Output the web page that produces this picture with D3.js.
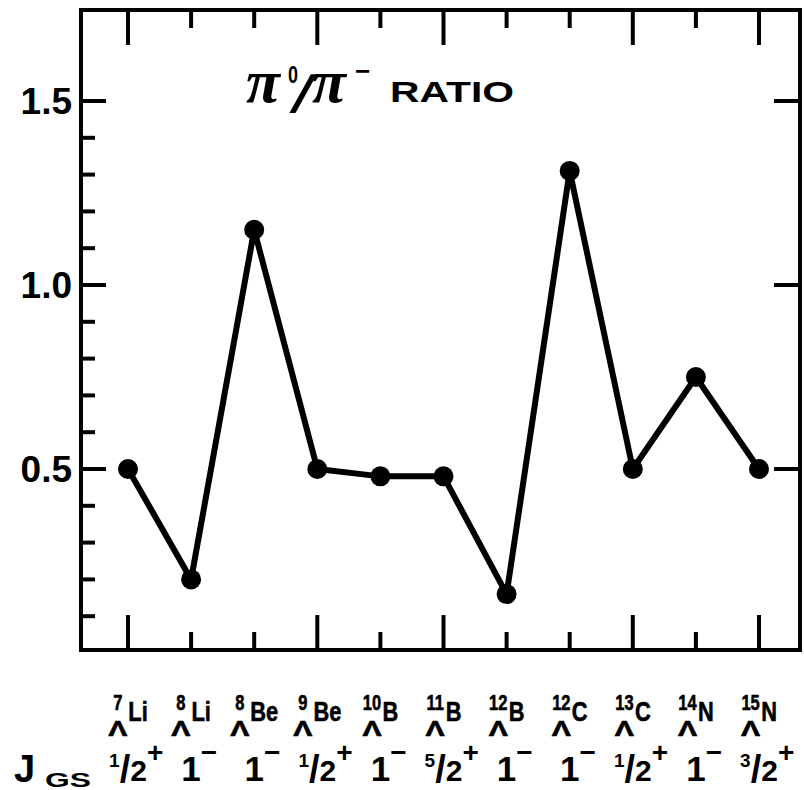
<!DOCTYPE html>
<html>
<head>
<meta charset="utf-8">
<script src="https://cdn.jsdelivr.net/npm/d3@7"></script>
<style>
  body { margin: 0; background: #fff; }
  .nuc { font-family: "Liberation Sans", Arial, sans-serif; font-weight: bold; stroke: #000; stroke-width: 0.6px; }
  .num { font-family: "Liberation Sans", Arial, sans-serif; font-weight: bold; }
  .pi { font-family: "Liberation Serif", "DejaVu Serif", serif; font-style: italic; font-weight: bold; }
</style>
</head>
<body>
<svg class="chart"></svg>
<script>
// hypernuclei along the x axis
var massNumbers = [7, 8, 8, 9, 10, 11, 12, 12, 13, 14, 15];
var elements = ["Li", "Li", "Be", "Be", "B", "B", "B", "C", "C", "N", "N"];
// ground state spin / parity
var spins = ["1/2", "1", "1", "1/2", "1", "5/2", "1", "1", "1/2", "1", "3/2"];
var parities = ["+", "−", "−", "+", "−", "+", "−", "−", "+", "−", "+"];
// pi0 / pi- ratio
var ratios = [0.50, 0.20, 1.15, 0.50, 0.48, 0.48, 0.16, 1.31, 0.50, 0.75, 0.50];

var yMajorTicks = [0.5, 1.0, 1.5];
var yTickLabels = ["0.5", "1.0", "1.5"];
var yMinorTicks = [0.1, 0.2, 0.3, 0.4, 0.6, 0.7, 0.8, 0.9, 1.1, 1.2, 1.3, 1.4];

var width = 804, height = 790;
var box = {left: 81, right: 800, top: 10, bottom: 650};

var ids = massNumbers.map(function(m, i) { return m + elements[i]; });

var svg = d3.select(".chart")
    .attr("width", width)
    .attr("height", height);

svg.append("rect").attr("width", width).attr("height", height).attr("fill", "#fff");

var x = d3.scalePoint().domain(ids).range([128, 759]);
var y = d3.scaleLinear().domain([0, 1.75]).range([653, 9]);

// frame
svg.append("rect")
    .attr("x", box.left).attr("y", box.top)
    .attr("width", box.right - box.left).attr("height", box.bottom - box.top)
    .attr("fill", "none").attr("stroke", "#000").attr("stroke-width", 4);

// left axis ticks
var ticks = svg.append("g").attr("stroke", "#000").attr("stroke-width", 4);
ticks.selectAll(".ymaj").data(yMajorTicks).join("line")
    .attr("x1", box.left).attr("x2", box.left + 25)
    .attr("y1", function(d) { return y(d); }).attr("y2", function(d) { return y(d); });
ticks.selectAll(".ymin").data(yMinorTicks).join("line")
    .attr("x1", box.left).attr("x2", box.left + 14)
    .attr("y1", function(d) { return y(d); }).attr("y2", function(d) { return y(d); });
// right axis: majors only
ticks.selectAll(".yright").data(yMajorTicks).join("line")
    .attr("x1", box.right).attr("x2", box.right - 26)
    .attr("y1", function(d) { return y(d); }).attr("y2", function(d) { return y(d); });

// x ticks, long for odd mass number
function tickLen(i) { return massNumbers[i] % 2 ? 35 : 18; }
ticks.selectAll(".xbot").data(ids).join("line")
    .attr("x1", function(d) { return x(d); }).attr("x2", function(d) { return x(d); })
    .attr("y1", box.bottom).attr("y2", function(d, i) { return box.bottom - tickLen(i); });
ticks.selectAll(".xtop").data(ids).join("line")
    .attr("x1", function(d) { return x(d); }).attr("x2", function(d) { return x(d); })
    .attr("y1", box.top).attr("y2", function(d, i) { return box.top + tickLen(i); });

// y labels
svg.append("g").selectAll("text").data(yMajorTicks).join("text")
    .attr("class", "num")
    .attr("x", 72).attr("y", function(d) { return y(d); })
    .attr("dy", "0.36em")
    .attr("text-anchor", "end")
    .attr("font-size", 37)
    .text(function(d, i) { return yTickLabels[i]; });

// data line and points
var line = d3.line()
    .x(function(d, i) { return x(ids[i]); })
    .y(function(d) { return y(d); });

svg.append("path")
    .datum(ratios)
    .attr("d", line)
    .attr("fill", "none")
    .attr("stroke", "#000")
    .attr("stroke-width", 6)
    .attr("stroke-linejoin", "round");

svg.append("g").selectAll("circle").data(ratios).join("circle")
    .attr("cx", function(d, i) { return x(ids[i]); })
    .attr("cy", function(d) { return y(d); })
    .attr("r", 10)
    .attr("fill", "#000");

// title: pi0/pi- RATIO
var title = svg.append("g");
title.append("text").attr("class", "pi").attr("x", 246).attr("y", 102).attr("font-size", 62).text("π");
title.append("text").attr("class", "num").attr("x", 0).attr("y", 83).attr("font-size", 24)
    .attr("transform", "translate(288,0) scale(0.75,1)").text("0");
title.append("text").attr("class", "num").attr("x", 290).attr("y", 112).attr("font-size", 52)
    .attr("transform", "skewX(-20) translate(40,0)").text("/");
title.append("text").attr("class", "pi").attr("x", 312).attr("y", 102).attr("font-size", 62).text("π");
title.append("text").attr("class", "num").attr("x", 355).attr("y", 80).attr("font-size", 26).text("−");
title.append("text").attr("class", "num")
    .attr("x", 390).attr("y", 102)
    .attr("font-size", 30)
    .attr("textLength", 124).attr("lengthAdjust", "spacingAndGlyphs")
    .text("RATIO");

// place a text at x0 squeezed horizontally by k, return its drawn width
function placeScaled(sel, x0, k) {
    var w = sel.node().getComputedTextLength();
    sel.attr("x", 0).attr("transform", "translate(" + x0 + ",0) scale(" + k + ",1)");
    return w * k;
}

// nucleus labels
var labels = svg.append("g").selectAll("g").data(ids).join("g")
    .attr("transform", function(d) { return "translate(" + x(d) + ",0)"; });

labels.each(function(d, i) {
    var g = d3.select(this);
    var inner = g.append("g");
    var lam = inner.append("text").attr("class", "nuc").attr("y", 736)
        .attr("font-size", 22).text("Λ");
    var num = inner.append("text").attr("class", "nuc").attr("y", 710)
        .attr("font-size", 22).text(massNumbers[i]);
    var el = inner.append("text").attr("class", "nuc").attr("y", 721)
        .attr("font-size", 28).text(elements[i]);
    var lamW = lam.node().getComputedTextLength() * 1.3;
    var numW = num.node().getComputedTextLength() * 0.75;
    var colW = Math.max(lamW, numW);
    placeScaled(lam, (colW - lamW) / 2, 1.3);
    placeScaled(num, (colW - numW) / 2, 0.75);
    var elW = placeScaled(el, colW + 1, 0.78);
    inner.attr("transform", "translate(" + (-(colW + 1 + elW) / 2) + ",0)");

    // spin parity
    var jt = g.append("text").attr("class", "num").attr("y", 781);
    var parts = spins[i].split("/");
    if (parts.length > 1) {
        jt.append("tspan").attr("font-size", 19).attr("dy", -14).text(parts[0]);
        jt.append("tspan").attr("font-size", 38).attr("dy", 15).text("/");
        jt.append("tspan").attr("font-size", 30).attr("dy", -1).text(parts[1]);
    } else {
        jt.append("tspan").attr("font-size", 35).text(parts[0]);
    }
    var w = jt.node().getBBox().width;
    jt.attr("x", -w / 2);
    jt.append("tspan").attr("font-size", 28).attr("dy", -19).text(parities[i]);
});

// J_GS row label
svg.append("text").attr("class", "num").attr("x", 14).attr("y", 782).attr("font-size", 38).text("J");
svg.append("text").attr("class", "num").attr("x", 45).attr("y", 787).attr("font-size", 20)
    .attr("textLength", 46).attr("lengthAdjust", "spacingAndGlyphs").text("GS");
</script>
</body>
</html>
